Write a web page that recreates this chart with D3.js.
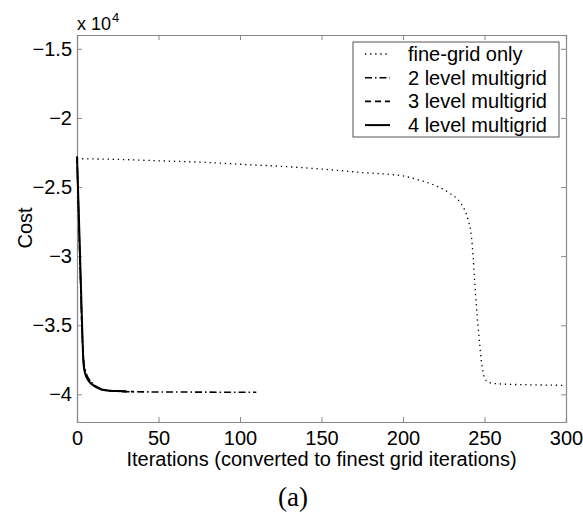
<!DOCTYPE html>
<html>
<head>
<meta charset="utf-8">
<script src="https://cdn.jsdelivr.net/npm/d3@7/dist/d3.min.js"></script>
<style>
  html, body { margin: 0; padding: 0; background: #fff; }
  svg { display: block; }
  svg text { font-family: Arial, "Liberation Sans", Arimo, Helvetica, sans-serif; }
  svg text.serif { font-family: "Times New Roman", "Liberation Serif", Tinos, Times, serif; }
</style>
</head>
<body>
<svg id="chart" width="583" height="518"></svg>
<script>
// Cost (in units of 10^4) against iterations, converted to finest-grid iterations
const fineIter = [0, 25, 50, 75, 100, 125, 150, 175, 200, 210, 220, 228, 235, 238, 240, 242, 243, 244, 245, 246, 247, 248, 249, 250, 252, 255, 260, 275, 300];
const fineCost = [-2.295, -2.300, -2.310, -2.320, -2.335, -2.350, -2.370, -2.395, -2.420, -2.450, -2.490, -2.540, -2.610, -2.670, -2.740, -2.860, -3.000, -3.190, -3.360, -3.500, -3.630, -3.750, -3.830, -3.880, -3.910, -3.920, -3.925, -3.930, -3.935];

const mg2Iter = [0, 1, 2, 3, 4, 5, 6, 8, 10, 13, 16, 20, 30, 40, 60, 80, 100, 110];
const mg2Cost = [-2.28, -2.70, -3.10, -3.50, -3.74, -3.82, -3.86, -3.90, -3.925, -3.950, -3.965, -3.975, -3.980, -3.982, -3.983, -3.984, -3.985, -3.985];

const mg3Iter = [0, 1, 2, 3, 4, 5, 6, 8, 10, 12, 15, 20, 25, 30, 35];
const mg3Cost = [-2.28, -2.70, -3.10, -3.50, -3.76, -3.84, -3.87, -3.90, -3.930, -3.950, -3.965, -3.975, -3.978, -3.980, -3.980];

const mg4Iter = [0, 1, 2, 3, 4, 5, 6, 8, 10, 12, 15, 18, 22, 26, 30];
const mg4Cost = [-2.28, -2.65, -3.05, -3.45, -3.78, -3.85, -3.88, -3.915, -3.935, -3.950, -3.965, -3.970, -3.975, -3.975, -3.978];

const xTicks = [0, 50, 100, 150, 200, 250, 300];
const yTicks = [-1.5, -2, -2.5, -3, -3.5, -4];

const seriesNames = ["fine-grid only", "2 level multigrid", "3 level multigrid", "4 level multigrid"];

const series = [
  { name: seriesNames[0], x: fineIter, y: fineCost, dash: "1.3,3.8", width: 1.3 },
  { name: seriesNames[1], x: mg2Iter, y: mg2Cost, dash: "7,3,1.5,3", width: 1.6 },
  { name: seriesNames[2], x: mg3Iter, y: mg3Cost, dash: "6,4", width: 1.6 },
  { name: seriesNames[3], x: mg4Iter, y: mg4Cost, dash: null, width: 2 }
];

const svg = d3.select("#chart");
const m = { left: 77, top: 35, right: 17, bottom: 96 };
const W = 583 - m.left - m.right;
const H = 518 - m.top - m.bottom;

const x = d3.scaleLinear().domain([0, 300]).range([0, W]);
const y = d3.scaleLinear().domain([-4.2, -1.4]).range([H, 0]);

const g = svg.append("g").attr("transform", `translate(${m.left},${m.top})`);
const axisColor = "#888";
const fmt = d3.format("~g");
const fs = "20px";

// axes on all four sides with inward ticks
const axB = g.append("g").attr("transform", `translate(0,${H})`)
  .call(d3.axisBottom(x).tickValues(xTicks).tickSize(-5).tickPadding(9).tickFormat(fmt));
const axT = g.append("g")
  .call(d3.axisTop(x).tickValues(xTicks).tickSize(-5).tickFormat(""));
const axL = g.append("g")
  .call(d3.axisLeft(y).tickValues(yTicks).tickSize(-5).tickPadding(5).tickFormat(fmt));
const axR = g.append("g").attr("transform", `translate(${W},0)`)
  .call(d3.axisRight(y).tickValues(yTicks).tickSize(-5).tickFormat(""));

[axB, axT, axL, axR].forEach(a => {
  a.attr("font-family", null).attr("font-size", null);
  a.select(".domain").attr("stroke", axisColor).attr("stroke-width", 1.2);
  a.selectAll(".tick line").attr("stroke", axisColor);
  a.selectAll(".tick text").attr("fill", "#000").style("font-size", fs);
});

// curves
const line = d3.line().x(d => x(d[0])).y(d => y(d[1])).curve(d3.curveMonotoneX);
series.forEach(s => {
  const pts = s.x.map((v, i) => [v, s.y[i]]);
  g.append("path").datum(pts)
    .attr("d", line)
    .attr("fill", "none")
    .attr("stroke", "#000")
    .attr("stroke-width", s.width)
    .attr("stroke-dasharray", s.dash);
});

// axis labels
svg.append("text")
  .attr("x", m.left + W / 2).attr("y", 466)
  .attr("text-anchor", "middle").style("font-size", fs)
  .text("Iterations (converted to finest grid iterations)");

svg.append("text")
  .attr("transform", "translate(32,228) rotate(-90)")
  .attr("text-anchor", "middle").style("font-size", fs)
  .text("Cost");

// exponent label
const ex = svg.append("text").attr("x", 77).attr("y", 30).style("font-size", "18px");
ex.append("tspan").text("x 10");
ex.append("tspan").attr("dx", 1).attr("dy", -8).style("font-size", "13px").text("4");

// panel label
svg.append("text").attr("class", "serif")
  .attr("x", 293).attr("y", 506)
  .attr("text-anchor", "middle")
  .style("font-size", "27px")
  .text("(a)");

// legend
const lg = svg.append("g").attr("transform", "translate(353,42)");
lg.append("rect").attr("width", 206).attr("height", 95)
  .attr("fill", "#fff").attr("stroke", "#555").attr("stroke-width", 1);
series.forEach((s, i) => {
  const yy = 12 + i * 23.7;
  lg.append("line")
    .attr("x1", 12).attr("x2", 37).attr("y1", yy).attr("y2", yy)
    .attr("stroke", "#000").attr("stroke-width", s.width)
    .attr("stroke-dasharray", s.dash);
  lg.append("text").attr("x", 55).attr("y", yy + 7)
    .style("font-size", fs).text(s.name);
});
</script>
</body>
</html>
